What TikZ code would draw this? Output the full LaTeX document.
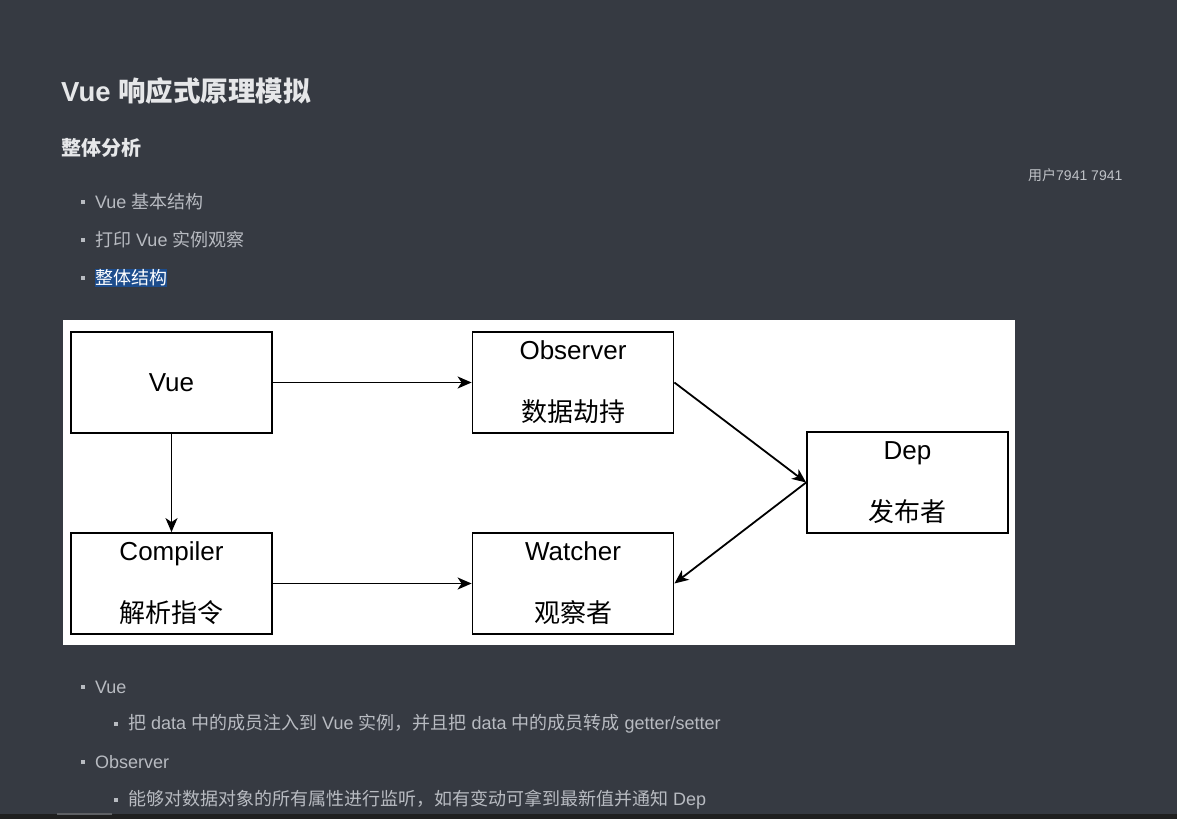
\documentclass[tikz,border=0pt]{standalone}
\usepackage{fontspec}
\setmainfont{Liberation Sans}
\newfontfamily\cjk{Noto Sans CJK SC}
\usetikzlibrary{arrows.meta,positioning}

\definecolor{pagebg}{HTML}{363A42}
\definecolor{textgray}{HTML}{B8BBC1}
\definecolor{titlegray}{HTML}{E6E7E9}
\definecolor{selblue}{HTML}{1C4C8C}

\begin{document}
\begin{tikzpicture}
  [x=1pt,y=-1pt,>={Stealth[length=14pt,width=12pt,inset=4pt]}]

% define styles
\tikzstyle{block} = [draw, rectangle, line width=1.8pt, minimum width=201pt, minimum height=101pt, inner sep=0pt, align=center, font=\fontsize{26}{62}\selectfont];
\tikzstyle{pagetext} = [anchor=west, inner sep=0pt, text=textgray, font=\fontsize{18}{20}\selectfont];
\tikzstyle{bulletbox} = [fill=textgray, rectangle, inner sep=0pt, minimum size=4.5pt];
\tikzstyle{link} = [->, line width=1.8pt];

% define new commands
\newcommand{\zh}[1]{{\cjk #1}}

\newcommand{\itemOne}[3]{
  \node[bulletbox] (#1b) at (83,#2) {};
  \node[pagetext, right=9.5pt of #1b] (#1) {#3};
}

\newcommand{\itemTwo}[3]{
  \node[bulletbox] (#1b) at (116,#2) {};
  \node[pagetext, right=9.5pt of #1b] (#1) {#3};
}

% page
\useasboundingbox (0,0) rectangle (1177,819);
\fill[pagebg] (0,0) rectangle (1177,819);
\fill[black!88] (0,814) rectangle (1177,819);
\fill[gray!55!pagebg] (57,813) rectangle (112,815);

% headings
\node[anchor=west, inner sep=0pt, text=titlegray, font=\bfseries\fontsize{27.5}{30}\selectfont] (title) at (61,90.5) {Vue \zh{响应式原理模拟}};
\node[anchor=west, inner sep=0pt, text=titlegray, font=\cjk\bfseries\fontsize{20}{24}\selectfont] (sub) at (61,147.5) {整体分析};
\node[anchor=west, inner sep=0pt, text=textgray!90!white, font=\fontsize{14}{16}\selectfont] (user) at (1028,175) {\zh{用户}7941 7941};

% list above
\itemOne{basic}{202}{Vue \zh{基本结构}}
\itemOne{print}{240}{\zh{打印} Vue \zh{实例观察}}
\node[bulletbox] (wholeb) at (83,278) {};
\node[pagetext, right=9.5pt of wholeb, fill=selblue, text=white, inner xsep=0pt, inner ysep=1pt] (whole) {\zh{整体结构}};

% diagram panel
\fill[white] (63,320) rectangle (1015,645);

% draw nodes
\node[block] (vue) at (171.5,382.5) {Vue};
\node[block] (observer) at (573,382.5) {Observer\\\zh{数据劫持}};
\node[block] (dep) at (907.5,482.5) {Dep\\\zh{发布者}};
\node[block] (compiler) at (171.5,583.5) {Compiler\\\zh{解析指令}};
\node[block] (watcher) at (573,583.5) {Watcher\\\zh{观察者}};

% draw edges
\draw[link] (vue) -- (observer);
\draw[link] (vue) -- (compiler);
\draw[link] (compiler) -- (watcher);
\draw[link] (observer.east) -- (dep.west);
\draw[link] (dep.west) -- (watcher.east);

% list below
\itemOne{vueitem}{687}{Vue}
\itemTwo{vuetext}{724}{\zh{把} data \zh{中的成员注入到} Vue \zh{实例，并且把} data \zh{中的成员转成} getter/setter}
\itemOne{obsitem}{762}{Observer}
\itemTwo{obstext}{800}{\zh{能够对数据对象的所有属性进行监听，如有变动可拿到最新值并通知} Dep}

\end{tikzpicture}
\end{document}
